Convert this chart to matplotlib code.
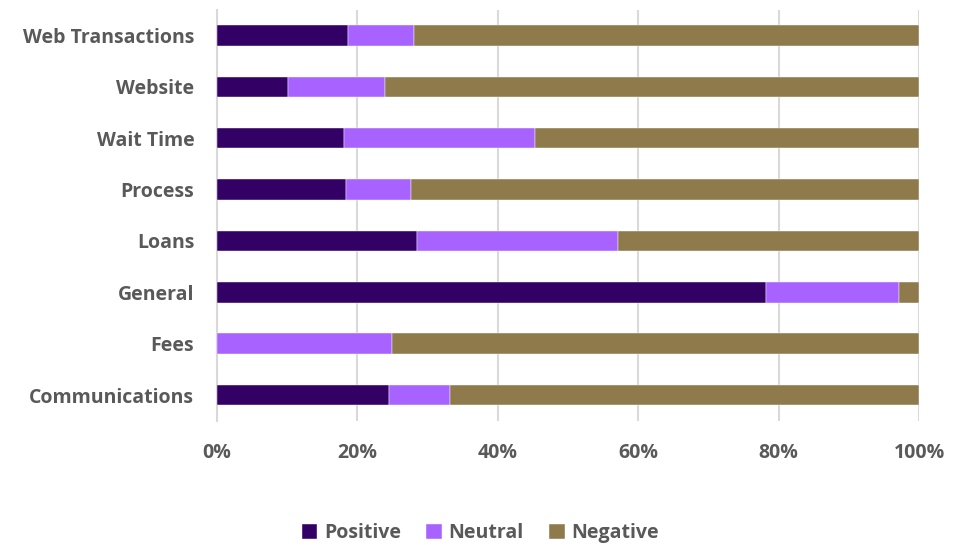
import matplotlib.pyplot as plt
import numpy as np
from matplotlib.ticker import PercentFormatter

plt.rcParams['font.family'] = ['Open Sans', 'DejaVu Sans']

categories = ['Communications', 'Fees', 'General', 'Loans',
              'Process', 'Wait Time', 'Website', 'Web Transactions']
positive = [24.5, 0.0, 78.2, 28.6, 18.4, 18.1, 10.2, 18.7]
neutral = [8.8, 25.0, 18.9, 28.5, 9.3, 27.3, 13.8, 9.4]
negative = [100 - p - n for p, n in zip(positive, neutral)]

series = [('Positive', positive, '#330066'),
          ('Neutral', neutral, '#A862FF'),
          ('Negative', negative, '#8F7A4C')]

text_col = '#595959'

fig = plt.figure(figsize=(9.61, 5.45), dpi=100)
ax = fig.add_axes([0.2253, 0.228, 0.7310, 0.754])

y = np.arange(len(categories))
left = np.zeros(len(categories))
for name, vals, col in series:
    ax.barh(y, vals, left=left, height=0.4, color=col, label=name,
            edgecolor='white', linewidth=0.3, zorder=3)
    left += np.array(vals)

ax.set_xlim(0, 100)
ax.set_ylim(-0.5, len(categories) - 0.5)
ax.set_xticks(np.arange(0, 101, 20))
ax.xaxis.set_major_formatter(PercentFormatter(decimals=0))
ax.set_yticks(y)
ax.set_yticklabels(categories)

ax.grid(axis='x', color='#D9D9D9', linewidth=1.5, zorder=0)
for s in ['top', 'right', 'bottom']:
    ax.spines[s].set_visible(False)
ax.spines['left'].set_color('#D9D9D9')
ax.spines['left'].set_linewidth(1.5)
ax.tick_params(length=0, labelcolor=text_col, labelsize=14)
ax.tick_params(axis='x', pad=16)
ax.tick_params(axis='y', pad=16)
for lbl in ax.get_xticklabels() + ax.get_yticklabels():
    lbl.set_fontweight('bold')

leg = fig.legend(loc='center', bbox_to_anchor=(0.5, 0.022), ncol=3,
                 frameon=False, handlelength=0.8, handleheight=0.8,
                 handletextpad=0.35, columnspacing=1.3,
                 prop={'weight': 'bold', 'size': 14})
for t in leg.get_texts():
    t.set_color(text_col)

fig.savefig('out.png', dpi=100)
